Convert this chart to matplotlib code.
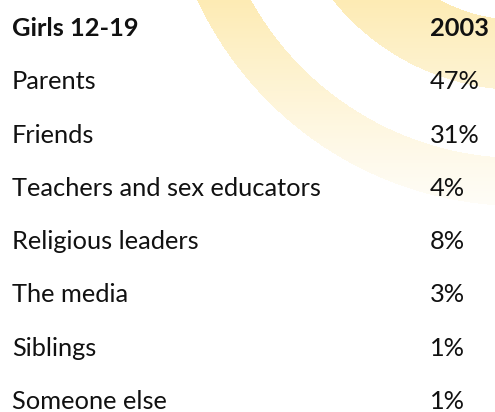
import numpy as np
import matplotlib
matplotlib.use("Agg")
from matplotlib import pyplot as plt

W, H = 495, 412

header = ["Girls 12-19", "2003"]
sources = ["Parents", "Friends", "Teachers and sex educators",
           "Religious leaders", "The media", "Siblings", "Someone else"]
shares = [47, 31, 4, 8, 3, 1, 1]

plt.rcParams['font.family'] = ['Lato', 'DejaVu Sans']

fig = plt.figure(figsize=(W / 100, H / 100), dpi=100)
ax = fig.add_axes([0, 0, 1, 1])
ax.set_xlim(0, W)
ax.set_ylim(H, 0)
ax.axis('off')

# background decoration: two pale yellow arcs fading towards the bottom
yy, xx = np.mgrid[0:H, 0:W] + 0.5
r = np.hypot(xx - 520, yy + 150)
ring = ((r > 308) & (r < 356)) | ((r > 170) & (r < 240))
fade = np.clip(1 - yy / 250, 0, 1) ** 1.3
alpha = ring * fade * 0.6
bg = np.ones((H, W, 3))
col = np.array([252, 222, 130]) / 255
bg = bg * (1 - alpha[..., None]) + col * alpha[..., None]
ax.imshow(bg, extent=(0, W, H, 0), interpolation='bilinear', zorder=0)

x_left, x_right = 12, 430
base0, step = 36, 53.3
size = 18.3

ax.text(x_left, base0, header[0], fontsize=size, fontweight='bold', va='baseline', color='#111111')
ax.text(x_right, base0, header[1], fontsize=size, fontweight='bold', va='baseline', color='#111111')
for i, (name, v) in enumerate(zip(sources, shares)):
    y = base0 + step * (i + 1)
    ax.text(x_left, y, name, fontsize=size, va='baseline', color='#111111')
    ax.text(x_right, y, f"{v}%", fontsize=size, va='baseline', color='#111111')

fig.savefig('out.png', dpi=100)
